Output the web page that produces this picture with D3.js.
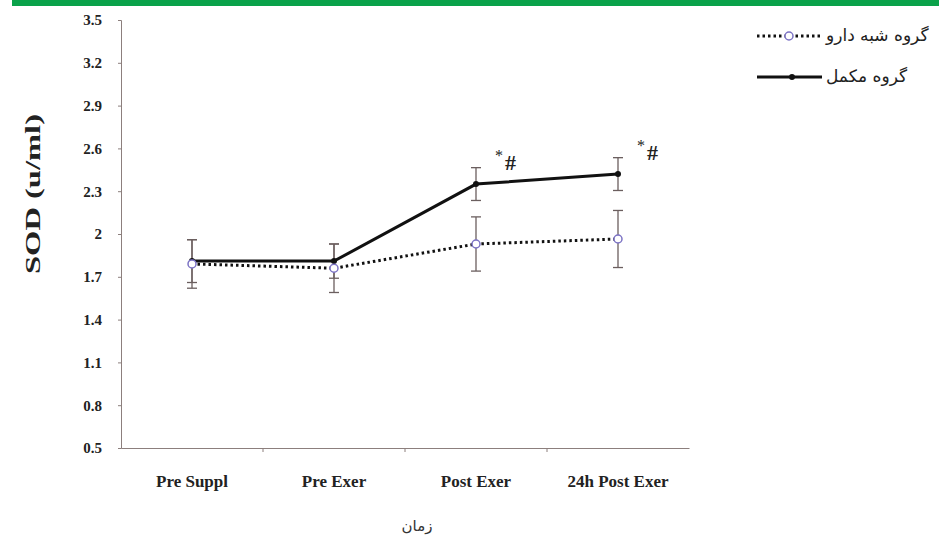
<!DOCTYPE html>
<html>
<head>
<meta charset="utf-8">
<script src="https://cdn.jsdelivr.net/npm/d3@7"></script>
<style>
  body { margin: 0; background: #fff; }
  svg { display: block; }
</style>
</head>
<body>
<div id="chart"></div>
<script>
// data
const categories = ["Pre Suppl", "Pre Exer", "Post Exer", "24h Post Exer"];
const placeboMean = [1.79, 1.76, 1.93, 1.965];
const placeboErr = [0.17, 0.17, 0.19, 0.2];
const supplMean = [1.81, 1.81, 2.35, 2.42];
const supplErr = [0.15, 0.12, 0.115, 0.115];
const yTicks = [0.5, 0.8, 1.1, 1.4, 1.7, 2, 2.3, 2.6, 2.9, 3.2, 3.5];
const marks = ["", "", "*#", "*#"];
const legendLabels = ["گروه شبه دارو", "گروه مکمل"];

const W = 939, H = 536;
const axisColor = "#8c7f7d";
const errColor = "#6b5f5f";
const serif = "'Liberation Serif', 'DejaVu Serif', serif";

const svg = d3.select("#chart").append("svg")
  .attr("width", W).attr("height", H);

// green band at top
svg.append("rect")
  .attr("x", 12).attr("y", 0).attr("width", W - 12).attr("height", 6)
  .attr("fill", "#0aa24a");

const y = d3.scaleLinear().domain([0.5, 3.5]).range([448, 20]);
const xBand = d3.scaleBand().domain(categories).range([121, 689]);
const xPt = d3.scalePoint().domain(categories).range([121, 689]).padding(0.5);

// y axis
const yAxis = svg.append("g")
  .attr("transform", "translate(121,0)")
  .call(d3.axisLeft(y).tickValues(yTicks).tickSize(3).tickFormat(d => d));
yAxis.select(".domain").attr("stroke", axisColor);
yAxis.selectAll(".tick line").attr("stroke", axisColor);
yAxis.selectAll("text")
  .attr("x", -19)
  .attr("fill", "#222")
  .style("font-family", serif)
  .style("font-weight", "bold")
  .style("font-size", "15px");

// x axis
const xAxis = svg.append("g")
  .attr("transform", "translate(0,448)")
  .call(d3.axisBottom(xBand).tickSize(0).tickSizeOuter(0));
xAxis.select(".domain").attr("stroke", axisColor);
xAxis.selectAll("text")
  .attr("y", 27)
  .attr("fill", "#222")
  .style("font-family", serif)
  .style("font-weight", "bold")
  .style("font-size", "17px");
xAxis.selectAll(".sep")
  .data(categories.slice(1))
  .join("line")
  .attr("class", "sep")
  .attr("x1", d => xBand(d)).attr("x2", d => xBand(d))
  .attr("y1", 0).attr("y2", 4)
  .attr("stroke", axisColor);

// axis titles
svg.append("text")
  .attr("transform", "translate(40,194) rotate(-90)")
  .attr("text-anchor", "middle")
  .attr("textLength", 160)
  .attr("lengthAdjust", "spacingAndGlyphs")
  .style("font-family", serif)
  .style("font-weight", "bold")
  .style("font-size", "22px")
  .attr("fill", "#222")
  .text("SOD (u/ml)");

svg.append("text")
  .attr("x", 417).attr("y", 531)
  .attr("text-anchor", "middle")
  .style("font-family", "'DejaVu Sans', 'Noto Sans', sans-serif")
  .style("font-size", "15px")
  .attr("fill", "#333")
  .text("زمان");

// error bars
function errorBars(means, errs, cls) {
  const g = svg.append("g").attr("class", cls);
  const rows = categories.map((c, i) => ({ c, m: means[i], e: errs[i] }));
  g.selectAll(".stem").data(rows).join("line")
    .attr("x1", d => xPt(d.c)).attr("x2", d => xPt(d.c))
    .attr("y1", d => y(d.m + d.e)).attr("y2", d => y(d.m - d.e))
    .attr("stroke", errColor).attr("stroke-width", 1.3);
  ["top", "bot"].forEach(k => {
    g.selectAll(".cap-" + k).data(rows).join("line")
      .attr("x1", d => xPt(d.c) - 5).attr("x2", d => xPt(d.c) + 5)
      .attr("y1", d => y(k === "top" ? d.m + d.e : d.m - d.e))
      .attr("y2", d => y(k === "top" ? d.m + d.e : d.m - d.e))
      .attr("stroke", errColor).attr("stroke-width", 1.3);
  });
}
errorBars(placeboMean, placeboErr, "err-placebo");
errorBars(supplMean, supplErr, "err-suppl");

const line = d3.line().x((d, i) => xPt(categories[i])).y(d => y(d));

// placebo: dotted with open circles
svg.append("path")
  .datum(placeboMean)
  .attr("d", line)
  .attr("fill", "none")
  .attr("stroke", "#111")
  .attr("stroke-width", 3)
  .attr("stroke-dasharray", "2.5,3");

// supplement: solid with small dots
svg.append("path")
  .datum(supplMean)
  .attr("d", line)
  .attr("fill", "none")
  .attr("stroke", "#111")
  .attr("stroke-width", 3);

svg.selectAll(".pt-suppl").data(supplMean).join("circle")
  .attr("cx", (d, i) => xPt(categories[i])).attr("cy", d => y(d))
  .attr("r", 3).attr("fill", "#111");

svg.selectAll(".pt-placebo").data(placeboMean).join("circle")
  .attr("cx", (d, i) => xPt(categories[i])).attr("cy", d => y(d))
  .attr("r", 4).attr("fill", "#fff")
  .attr("stroke", "#7b72c4").attr("stroke-width", 1.5);

// significance marks
const sig = svg.selectAll(".sig")
  .data(categories.map((c, i) => ({ c, t: marks[i], v: supplMean[i] + supplErr[i] })).filter(d => d.t))
  .join("text")
  .attr("x", d => xPt(d.c) + 19)
  .attr("y", d => y(d.v) + 2)
  .style("font-family", serif)
  .attr("fill", "#222");
sig.append("tspan").attr("dy", -9).style("font-size", "16px").text("*");
sig.append("tspan").attr("dy", 9).attr("dx", 2)
  .style("font-size", "22px").style("font-weight", "bold").text("#");

// legend
const legend = svg.append("g");
const legRows = [
  { label: legendLabels[0], dashed: true, y: 36 },
  { label: legendLabels[1], dashed: false, y: 77 }
];
legRows.forEach(r => {
  legend.append("line")
    .attr("x1", 757).attr("x2", 822).attr("y1", r.y).attr("y2", r.y)
    .attr("stroke", "#111").attr("stroke-width", 3)
    .attr("stroke-dasharray", r.dashed ? "2.5,3" : null);
  if (r.dashed) {
    legend.append("circle").attr("cx", 789).attr("cy", r.y).attr("r", 4)
      .attr("fill", "#fff").attr("stroke", "#7b72c4").attr("stroke-width", 1.5);
  } else {
    legend.append("circle").attr("cx", 792).attr("cy", r.y).attr("r", 3).attr("fill", "#111");
  }
  legend.append("text")
    .attr("x", 826).attr("y", r.y + 5)
    .style("font-family", "'DejaVu Sans', 'Noto Sans', sans-serif")
    .style("font-size", "17px")
    .attr("fill", "#222")
    .text(r.label);
});
</script>
</body>
</html>
